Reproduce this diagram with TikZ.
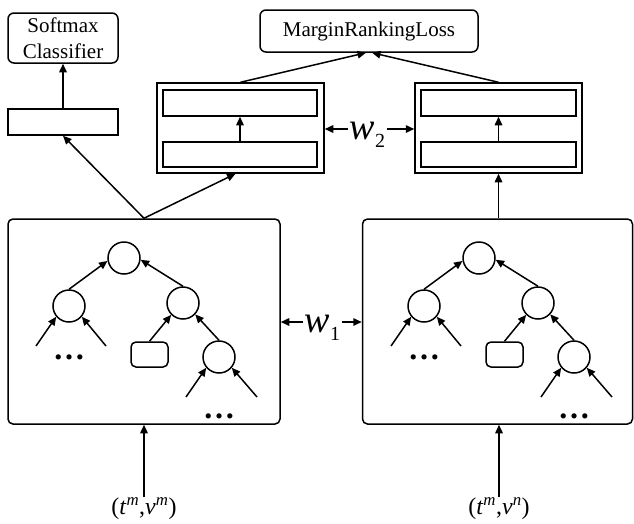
\documentclass[tikz,border=0pt]{standalone}
\usepackage{fontspec}
\setmainfont{Liberation Serif}
\usetikzlibrary{arrows.meta}

\tikzset{
  conn/.style={line width=1.5pt, -{Triangle[length=8.5pt,width=7.5pt]}},
  sbox/.style={draw, line width=1.5pt, inner sep=0pt},
  rbox/.style={draw, line width=1.5pt, rounded corners=6pt, inner sep=0pt, align=center,
               font=\fontsize{21}{26}\selectfont},
  tnode/.style={draw, circle, line width=1.5pt, minimum size=32pt, inner sep=0pt},
  leafbox/.style={draw, line width=1.5pt, rounded corners=5pt, minimum width=37pt,
                  minimum height=25pt, inner sep=0pt},
  dotsnode/.style={inner sep=0pt, font=\fontsize{32}{32}\selectfont\bfseries},
  wlabel/.style={inner sep=2pt, text height=20pt, text depth=0pt},
  inlabel/.style={inner sep=1pt, font=\fontsize{24}{26}\selectfont},
}

% weight label: italic w with a lowered index
\newcommand\wlab[1]{{\fontsize{38}{40}\selectfont\itshape w}\raisebox{-8pt}{\fontsize{20}{22}\selectfont #1}}

% one tree: #1 name prefix, #2 horizontal offset
\newcommand\treepic[2]{%
\begin{scope}[shift={(#2,0)}]
  \node[tnode] (#1root) at (124,258) {};
  \node[tnode] (#1lc) at (69,306) {};
  \node[tnode] (#1rc) at (183,303) {};
  \node[leafbox] (#1lf) at (149.5,354.5) {};
  \node[tnode] (#1rr) at (219,357) {};
  \coordinate (#1inA) at (36,346);
  \coordinate (#1inB) at (106,346);
  \coordinate (#1inC) at (186,397);
  \coordinate (#1inD) at (257,397);
  \node[dotsnode] (#1dotsA) at (69,357) {…};
  \node[dotsnode] (#1dotsB) at (219,416) {…};
  \draw[conn] (#1lc.north) -- (#1root.190);
  \draw[conn] (#1rc.north) -- (#1root.354);
  \draw[conn] (#1lf.north) -- (#1rc.225);
  \draw[conn] (#1rr.north) -- (#1rc.317);
  \draw[conn] (#1inA) -- (#1lc.220);
  \draw[conn] (#1inB) -- (#1lc.320);
  \draw[conn] (#1inC) -- (#1rr.220);
  \draw[conn] (#1inD) -- (#1rr.320);
\end{scope}}

\begin{document}
\begin{tikzpicture}[x=1pt,y=-1pt]
\useasboundingbox (0,0) rectangle (634,523);

% top level boxes
\node[rbox, minimum width=110pt, minimum height=50pt] (soft) at (63,38) {Softmax\\Classifier};
\node[sbox, minimum width=110pt, minimum height=26pt] (feat) at (63,122) {};
\node[rbox, minimum width=218pt, minimum height=42pt] (loss) at (369,31) {MarginRankingLoss};

% two stacked encoders
\node[sbox, minimum width=167pt, minimum height=90pt] (encL) at (240.5,128) {};
\node[sbox, minimum width=154pt, minimum height=26pt] (encLt) at (240,103) {};
\node[sbox, minimum width=154pt, minimum height=25pt] (encLb) at (240,154.5) {};
\node[sbox, minimum width=167pt, minimum height=90pt] (encR) at (498.5,128) {};
\node[sbox, minimum width=155pt, minimum height=26pt] (encRt) at (498.5,103) {};
\node[sbox, minimum width=155pt, minimum height=25pt] (encRb) at (498.5,154.5) {};

% tree containers
\node[draw, line width=1.5pt, rounded corners=5pt, minimum width=272pt, minimum height=205pt,
      inner sep=0pt] (treeL) at (144,321.5) {};
\node[draw, line width=1.5pt, rounded corners=5pt, minimum width=270pt, minimum height=205pt,
      inner sep=0pt] (treeR) at (497.5,321.5) {};

\treepic{L}{0}
\treepic{R}{355}

% weight sharing labels
\node[wlabel] (w2) at (367.5,129) {\wlab{2}};
\node[wlabel] (w1) at (322.5,322) {\wlab{1}};
\draw[conn] (w2.west) -- (w2.west -| encL.east);
\draw[conn] (w2.east) -- (w2.east -| encR.west);
\draw[conn] (w1.west) -- (w1.west -| treeL.east);
\draw[conn] (w1.east) -- (w1.east -| treeR.west);

% inputs
\node[inlabel] (inL) at (144,509) {(\textit{t}\textsuperscript{\textit{m}},\textit{v}\textsuperscript{\textit{m}})};
\node[inlabel] (inR) at (499,509) {(\textit{t}\textsuperscript{\textit{m}},\textit{v}\textsuperscript{\textit{n}})};

% connectors
\draw[conn] (inL.north) -- (treeL.south);
\draw[conn] (inR.north) -- (inR.north |- treeR.south);
\draw[conn] (treeL.north) -- (feat.south);
\draw[conn] (treeL.north) -- ([xshift=-5pt]encL.south);
\draw[conn] (treeR.north -| encR.south) -- (encR.south);
\draw[conn] (encLb.north) -- (encLt.south);
\draw[conn] (encRb.north) -- (encRt.south);
\draw[conn] (feat.north) -- (soft.south);
\draw[conn] (encL.north) -- ([xshift=-3pt]loss.south);
\draw[conn] (encR.north) -- ([xshift=3pt]loss.south);
\end{tikzpicture}
\end{document}
